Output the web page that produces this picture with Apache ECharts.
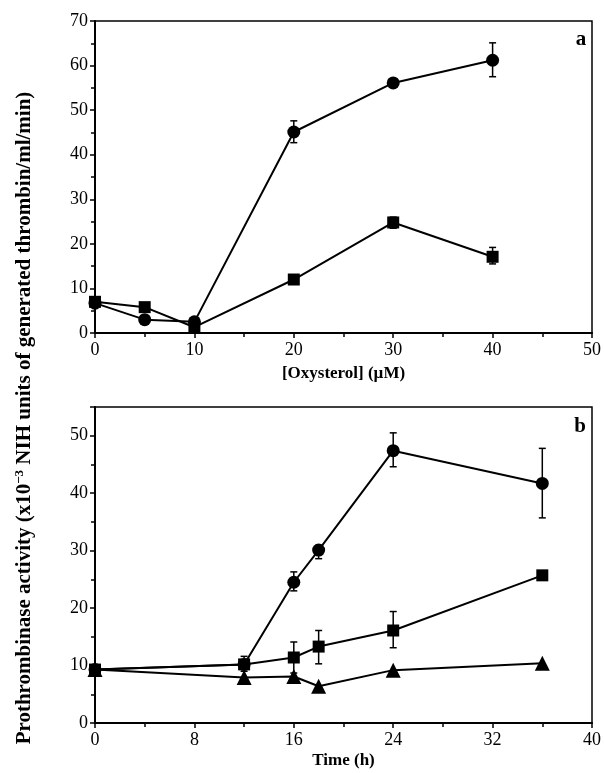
<!DOCTYPE html>
<html>
<head>
<meta charset="utf-8">
<script src="https://cdn.jsdelivr.net/npm/echarts@6/dist/echarts.min.js"></script>
<style>
  html, body { margin: 0; padding: 0; background: #fff; }
  #chart { width: 604px; height: 773px; }
</style>
</head>
<body>
<div id="chart"></div>
<script>
// panel a: oxysterol concentration (uM)
var concA = [0, 5, 10, 20, 30, 40];
var circleA = [6.7, 3.0, 2.5, 45.1, 56.1, 61.2];
var circleAErrLow = [null, null, null, 42.7, 55.2, 57.5];
var circleAErrHigh = [null, null, null, 47.6, 57.0, 65.1];
var squareA = [7.0, 5.8, 1.3, 12.0, 24.8, 17.1];
var squareAErrLow = [null, null, null, null, 23.5, 15.5];
var squareAErrHigh = [null, null, null, null, 26.0, 19.2];

// panel b: time (h)
var timeB = [0, 12, 16, 18, 24, 36];
var circleB = [9.3, 10.2, 24.5, 30.1, 47.4, 41.7];
var circleBErrLow = [null, null, 23.0, 28.6, 44.6, 35.7];
var circleBErrHigh = [null, null, 26.3, 30.9, 50.5, 47.8];
var squareB = [9.3, 10.2, 11.4, 13.3, 16.1, 25.7];
var squareBErrLow = [null, 9.0, 8.7, 10.3, 13.1, null];
var squareBErrHigh = [null, 11.6, 14.1, 16.1, 19.4, null];
var triangleB = [9.3, 7.9, 8.1, 6.4, 9.2, 10.4];

var serif = 'Liberation Serif';

function pairs(xs, ys) {
    var out = [];
    for (var i = 0; i < xs.length; i++) out.push([xs[i], ys[i]]);
    return out;
}
function errData(xs, lo, hi) {
    var out = [];
    for (var i = 0; i < xs.length; i++) {
        if (lo[i] != null && hi[i] != null) out.push([xs[i], lo[i], hi[i]]);
    }
    return out;
}
function renderErr(params, api) {
    var x = api.value(0);
    var p1 = api.coord([x, api.value(1)]);
    var p2 = api.coord([x, api.value(2)]);
    var w = 3.5;
    var st = { stroke: '#000', lineWidth: 1.5 };
    return {
        type: 'group',
        children: [
            { type: 'line', shape: { x1: p1[0], y1: p1[1], x2: p2[0], y2: p2[1] }, style: st },
            { type: 'line', shape: { x1: p1[0] - w, y1: p1[1], x2: p1[0] + w, y2: p1[1] }, style: st },
            { type: 'line', shape: { x1: p2[0] - w, y1: p2[1], x2: p2[0] + w, y2: p2[1] }, style: st }
        ]
    };
}
function errSeries(idx, data) {
    return {
        type: 'custom', xAxisIndex: idx, yAxisIndex: idx,
        renderItem: renderErr, data: data, z: 1, silent: true
    };
}
function lineSeries(idx, data, symbol, size) {
    return {
        type: 'line', xAxisIndex: idx, yAxisIndex: idx, data: data,
        symbol: symbol, symbolSize: size, z: 3,
        lineStyle: { color: '#000', width: 2 },
        itemStyle: { color: '#000' },
        animation: false
    };
}
function xAxisCfg(idx, max, interval, name, gap) {
    return {
        type: 'value', gridIndex: idx, min: 0, max: max, interval: interval,
        name: name, nameLocation: 'middle', nameGap: gap,
        nameTextStyle: { fontFamily: serif, fontSize: 17, fontWeight: 'bold', color: '#000' },
        axisLine: { lineStyle: { color: '#000', width: 2 } },
        axisTick: { length: 5, lineStyle: { color: '#000', width: 1.5 } },
        minorTick: { show: true, splitNumber: 2, length: 4, lineStyle: { color: '#000', width: 1.5 } },
        axisLabel: { fontFamily: serif, fontSize: 18, color: '#000', margin: 8 },
        splitLine: { show: false }
    };
}
function yAxisCfg(idx, max) {
    return {
        type: 'value', gridIndex: idx, min: 0, max: max, interval: 10,
        axisLine: { lineStyle: { color: '#000', width: 2 } },
        axisTick: { length: 5, lineStyle: { color: '#000', width: 1.5 } },
        minorTick: { show: true, splitNumber: 2, length: 4, lineStyle: { color: '#000', width: 1.5 } },
        axisLabel: { fontFamily: serif, fontSize: 18, color: '#000', margin: 7,
            formatter: function (v) { return v % 10 === 0 ? v : ''; } },
        splitLine: { show: false }
    };
}

var chart = echarts.init(document.getElementById('chart'));
var option = {
    backgroundColor: '#fff',
    animation: false,
    grid: [
        { left: 95, top: 21, width: 499, height: 312, show: true, borderColor: '#000', borderWidth: 1.5 },
        { left: 95, top: 407, width: 499, height: 316, show: true, borderColor: '#000', borderWidth: 1.5 }
    ],
    xAxis: [
        xAxisCfg(0, 50, 10, '[Oxysterol] (\u00b5M)', 32),
        xAxisCfg(1, 40, 8, 'Time (h)', 29)
    ],
    yAxis: [
        yAxisCfg(0, 70),
        yAxisCfg(1, 55)
    ],
    graphic: [
        {
            type: 'text', x: 25, y: 418, rotation: Math.PI / 2,
            style: {
                text: '{t|Prothrombinase activity (x10}{s|\u22123}{t| NIH units of generated thrombin/ml/min)}',
                align: 'center', verticalAlign: 'middle',
                rich: {
                    t: { fontFamily: serif, fontSize: 21, fontWeight: 'bold', fill: '#000' },
                    s: { fontFamily: serif, fontSize: 13, fontWeight: 'bold', fill: '#000', verticalAlign: 'top', padding: [0, 0, 10, 0] }
                }
            }
        },
        {
            type: 'text', x: 581, y: 40,
            style: { text: 'a', fontFamily: serif, fontSize: 21, fontWeight: 'bold', fill: '#000', align: 'center', verticalAlign: 'middle' }
        },
        {
            type: 'text', x: 580, y: 427,
            style: { text: 'b', fontFamily: serif, fontSize: 21, fontWeight: 'bold', fill: '#000', align: 'center', verticalAlign: 'middle' }
        }
    ],
    series: [
        errSeries(0, errData(concA, circleAErrLow, circleAErrHigh)),
        errSeries(0, errData(concA, squareAErrLow, squareAErrHigh)),
        lineSeries(0, pairs(concA, circleA), 'circle', 13),
        lineSeries(0, pairs(concA, squareA), 'rect', 12),
        errSeries(1, errData(timeB, circleBErrLow, circleBErrHigh)),
        errSeries(1, errData(timeB, squareBErrLow, squareBErrHigh)),
        lineSeries(1, pairs(timeB, circleB), 'circle', 13),
        lineSeries(1, pairs(timeB, squareB), 'rect', 12),
        lineSeries(1, pairs(timeB, triangleB), 'triangle', 15)
    ]
};
chart.setOption(option);
</script>
</body>
</html>
